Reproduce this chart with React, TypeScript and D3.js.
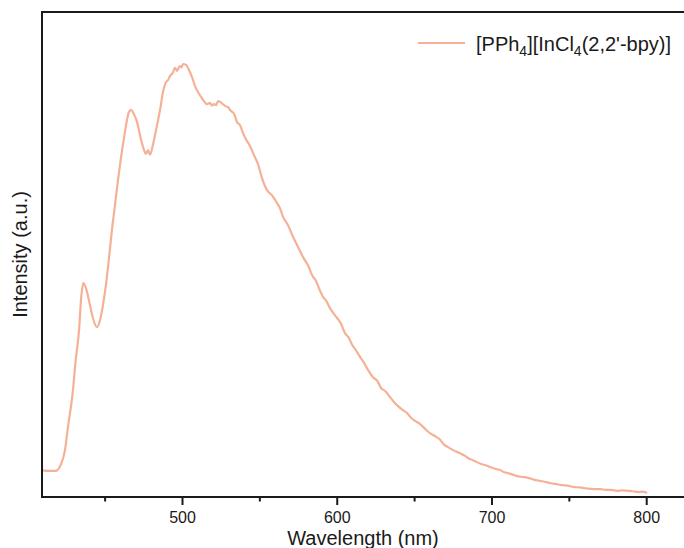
import React from "react";
import * as d3 from "d3";

// spectrum (intensity normalised to the main peak)
const wavelengths = [
  409, 414, 418, 421, 424, 426, 429, 431, 433.3, 434.4, 435.9, 437.6, 440.2, 442.1,
  444.7, 446.7, 448.6, 450.5, 452.5, 454.4, 456.4, 458.3, 460.2, 462.2, 464.1, 465.4,
  466.7, 468.6, 470.6, 472.5, 474.5, 476.4, 477.7, 479, 480.9, 482.9, 484.2, 485.5,
  487.4, 489.3, 490.5, 491.9, 493.9, 495.1, 496.4, 497.3, 498.4, 499.4, 500.3, 502.3,
  504.2, 506.1, 508.1, 510, 512, 513.9, 515.8, 517.8, 519, 520.4, 521.7, 523, 525.5,
  527.5, 529.4, 531.4, 533.3, 535.2, 537.2, 539.1, 541, 543.6, 546.2, 548.8, 551.4,
  554.6, 557.9, 561.1, 563, 565, 568.2, 571.4, 574.7, 577.9, 581.1, 584.4, 586, 587.6,
  590.8, 593, 595.3, 599.9, 602, 605, 607.5, 609.6, 612, 614.7, 617, 619.2, 623.1,
  626, 628.3, 631, 634.1, 637, 639.3, 642, 645.1, 648, 650.3, 653, 655.5, 658, 660.6,
  663, 666.5, 669, 671.6, 674, 677.5, 680, 682.6, 685, 687.8, 690, 693, 696, 698.8,
  702, 705.2, 708, 710.4, 713, 716.2, 720, 723.3, 727, 731.1, 734, 737.5, 741, 745.3,
  749, 752.4, 756, 758.9, 762, 766.6, 770, 773.7, 777, 780.9, 784, 788, 791, 794.5,
  797, 800.3,
];

const intensity = [
  0.06, 0.058, 0.058, 0.07, 0.105, 0.16, 0.238, 0.315, 0.391, 0.454, 0.493, 0.481,
  0.442, 0.412, 0.391, 0.407, 0.442, 0.488, 0.551, 0.616, 0.674, 0.731, 0.782, 0.829,
  0.87, 0.889, 0.894, 0.884, 0.866, 0.836, 0.808, 0.792, 0.801, 0.79, 0.813, 0.847,
  0.87, 0.894, 0.935, 0.958, 0.962, 0.972, 0.981, 0.991, 0.984, 0.99, 0.995, 0.992,
  1.0, 0.998, 0.986, 0.97, 0.949, 0.935, 0.924, 0.914, 0.907, 0.91, 0.904, 0.907,
  0.905, 0.914, 0.909, 0.903, 0.9, 0.891, 0.885, 0.866, 0.858, 0.84, 0.826, 0.81,
  0.789, 0.768, 0.736, 0.708, 0.696, 0.678, 0.666, 0.646, 0.627, 0.6, 0.576, 0.553,
  0.534, 0.507, 0.5, 0.486, 0.461, 0.451, 0.435, 0.412, 0.402, 0.377, 0.366, 0.35,
  0.338, 0.322, 0.31, 0.296, 0.275, 0.266, 0.25, 0.243, 0.229, 0.216, 0.208, 0.2,
  0.192, 0.18, 0.174, 0.168, 0.16, 0.151, 0.144, 0.139, 0.13, 0.119, 0.113, 0.108,
  0.102, 0.098, 0.093, 0.087, 0.083, 0.079, 0.074, 0.071, 0.067, 0.063, 0.06, 0.055,
  0.053, 0.05, 0.046, 0.044, 0.042, 0.038, 0.035, 0.033, 0.03, 0.028, 0.025, 0.024,
  0.021, 0.02, 0.019, 0.017, 0.016, 0.016, 0.014, 0.014, 0.012, 0.013, 0.012, 0.011,
  0.009, 0.01, 0.007,
];

const majorTicks = [500, 600, 700, 800];
const minorTicks = [450, 550, 650, 750];

const lineColor = "#f5b195";
const font = "'Liberation Sans', Arial, sans-serif";

export default function App() {
  const width = 684;
  const height = 548;
  const left = 42;
  const top = 12;
  const bottom = 497;

  const x = d3.scaleLinear().domain([409.2, 824.1]).range([left, width]);
  const y = d3.scaleLinear().domain([0, 1.1204]).range([496, top]);

  const points: [number, number][] = wavelengths.map((w, i) => [w, intensity[i]]);
  const line = d3
    .line<[number, number]>()
    .x((d) => x(d[0]))
    .y((d) => y(d[1]))
    .curve(d3.curveMonotoneX);

  return (
    <svg
      width={width}
      height={height}
      style={{ position: "absolute", left: 0, top: 0, background: "#fff" }}
      fontFamily={font}
    >
      <path d={line(points) || ""} fill="none" stroke={lineColor} strokeWidth={2.2} />

      {/* frame: left, top and bottom (the right side is cut off in the original) */}
      <path
        d={["M", width, top, "H", left, "V", bottom, "H", width].join(" ")}
        fill="none"
        stroke="#1a1a1a"
        strokeWidth={2}
      />

      {majorTicks.map((t) => (
        <g key={t} transform={`translate(${x(t)},${bottom})`}>
          <line y1={0} y2={8} stroke="#1a1a1a" strokeWidth={2} />
          <text y={26} textAnchor="middle" fontSize={16} fill="#1a1a1a">
            {t}
          </text>
        </g>
      ))}
      {minorTicks.map((t) => (
        <line
          key={t}
          x1={x(t)}
          x2={x(t)}
          y1={bottom}
          y2={bottom + 4.5}
          stroke="#1a1a1a"
          strokeWidth={2}
        />
      ))}

      <text x={363} y={545} textAnchor="middle" fontSize={20} fill="#1a1a1a">
        Wavelength (nm)
      </text>
      <text
        transform={`translate(27,${(top + bottom) / 2}) rotate(-90)`}
        textAnchor="middle"
        fontSize={20}
        fill="#1a1a1a"
      >
        Intensity (a.u.)
      </text>

      {/* legend */}
      <line x1={418} x2={465} y1={43} y2={43} stroke={lineColor} strokeWidth={2.2} />
      <text x={476} y={51} fontSize={20} fill="#1a1a1a">
        [PPh
        <tspan fontSize={14} dy={5}>4</tspan>
        <tspan dy={-5}>][InCl</tspan>
        <tspan fontSize={14} dy={5}>4</tspan>
        <tspan dy={-5}>(2,2'-bpy)]</tspan>
      </text>
    </svg>
  );
}
